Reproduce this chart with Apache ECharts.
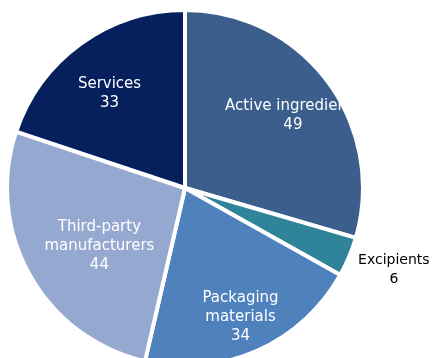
<!DOCTYPE html>
<html>
<head>
<meta charset="utf-8">
<script src="https://cdn.jsdelivr.net/npm/echarts@6/dist/echarts.min.js"></script>
<style>
  html, body { margin: 0; padding: 0; background: #ffffff; }
  #chart { width: 434px; height: 358px; }
</style>
</head>
<body>
<div id="chart"></div>
<script>
// Spend by category
const categories = ['Active ingredients', 'Excipients', 'Packaging\nmaterials', 'Third-party\nmanufacturers', 'Services'];
const values = [49, 6, 34, 44, 33];
const colors = ['#3B5E8D', '#30849A', '#4F81BD', '#95A9D0', '#06205E'];

// Label anchor: fraction of the radius and an angular nudge (degrees) for each slice
const labelAnchor = [[0.73, 3], [1.26, -1.4], [0.79, 0.6], [0.58, -4.7], [0.68, -2.8]];

const CX = 185, CY = 188, R = 178;

const total = values.reduce((a, b) => a + b, 0);
const midAngles = [];
let acc = 0;
values.forEach(v => {
  midAngles.push((acc + v / 2) / total * 360);
  acc += v;
});

const chart = echarts.init(document.getElementById('chart'), null, { renderer: 'canvas' });

chart.setOption({
  animation: false,
  series: [{
    type: 'pie',
    center: [CX, CY],
    radius: [0, R],
    startAngle: 90,
    clockwise: true,
    avoidLabelOverlap: false,
    itemStyle: { borderColor: '#ffffff', borderWidth: 4 },
    label: {
      show: true,
      position: 'inside',
      color: '#ffffff',
      fontFamily: 'DejaVu Sans',
      fontSize: 15,
      lineHeight: 19,
      align: 'center',
      formatter: p => p.name + '\n' + p.value
    },
    labelLine: { show: false },
    labelLayout: function (params) {
      const i = params.dataIndex;
      const a = (midAngles[i] + labelAnchor[i][1]) * Math.PI / 180;
      const r = R * labelAnchor[i][0];
      return { x: CX + r * Math.sin(a), y: CY - r * Math.cos(a) };
    },
    emphasis: { disabled: true },
    data: categories.map((c, i) => {
      const item = { name: c, value: values[i], itemStyle: { color: colors[i] } };
      if (i === 1) item.label = { color: '#000000', fontSize: 14, lineHeight: 19 };
      return item;
    })
  }]
});
</script>
</body>
</html>
